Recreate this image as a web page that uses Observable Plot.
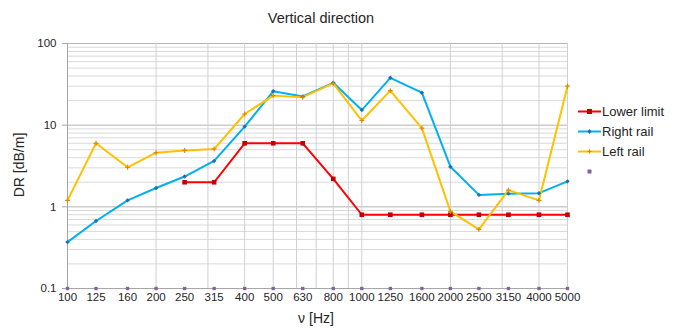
<!DOCTYPE html>
<html><head><meta charset="utf-8">
<script src="https://cdn.jsdelivr.net/npm/d3@7"></script>
<script src="https://cdn.jsdelivr.net/npm/@observablehq/plot@0.6"></script>
<style>
body{margin:0;background:#fff;font-family:"Liberation Sans",Arial,sans-serif;color:#262626;}
#wrap{position:relative;width:676px;height:329px;overflow:hidden;}
.lab{position:absolute;white-space:nowrap;}
#title{top:10px;left:221px;width:200px;text-align:center;font-size:14.5px;}
#ylab{left:19px;top:165px;font-size:14px;transform:translate(-50%,-50%) rotate(-90deg);}
#xlab{left:316px;top:310px;font-size:14px;transform:translateX(-50%);}
#legend{position:absolute;left:578px;top:101px;font-size:13px;}
.row{height:20px;display:flex;align-items:center;}
.row svg{margin-right:1px;}
</style></head><body>
<div id="wrap">
<div id="chart"></div>
<div id="title" class="lab">Vertical direction</div>
<div id="ylab" class="lab">DR [dB/m]</div>
<div id="xlab" class="lab">ν [Hz]</div>
<div id="legend"></div>
</div>
<script>
const freqs = [100,125,160,200,250,315,400,500,630,800,1000,1250,1600,2000,2500,3150,4000,5000];
const lowerLimit = [null,null,null,null,2,2,6,6,6,2.2,0.8,0.8,0.8,0.8,0.8,0.8,0.8,0.8];
const rightRail = [0.37,0.67,1.2,1.7,2.35,3.65,9.6,26,22.5,33,15.3,38,25,3.1,1.4,1.45,1.47,2.05];
const leftRail = [1.2,6,3.05,4.6,4.9,5.1,13.7,23,22,32.5,11.4,26.5,9.2,0.88,0.53,1.6,1.2,30];
const baseSeries = freqs.map(() => 0.1);
const seriesNames = ["Lower limit", "Right rail", "Left rail", ""];
const seriesColors = ["#ff0000", "#00b0f0", "#ffc000", "#8064a2"];
const yTicks = [0.1, 1, 10, 100];
const xGrid = [200,300,400,500,600,700,800,900,1000,2000,3000,4000,5000];

const yMinor = [];
for (const dec of [0.1, 1, 10]) for (let k = 2; k <= 9; k++) yMinor.push(+(dec * k).toPrecision(3));

const toRows = vals => freqs.map((f, i) => ({f, v: vals[i]})).filter(d => d.v != null);
const lowRows = toRows(lowerLimit), rightRows = toRows(rightRail), leftRows = toRows(leftRail), baseRows = toRows(baseSeries);

const chart = Plot.plot({
  width: 676, height: 329,
  marginLeft: 67, marginRight: 109, marginTop: 43, marginBottom: 41,
  style: {fontFamily: "Liberation Sans, Arial, sans-serif", fontSize: "11.5px", color: "#262626"},
  x: {type: "log", domain: [100, 5000], axis: null},
  y: {type: "log", domain: [0.1, 100]},
  marks: [
    Plot.ruleY(yMinor, {stroke: "#d9d9d9", strokeWidth: 1}),
    Plot.ruleY([1, 10, 100], {stroke: "#b3b3b3", strokeWidth: 1}),
    Plot.ruleX(xGrid, {stroke: "#d0d0d0", strokeWidth: 1}),
    Plot.ruleX([100], {stroke: "#a6a6a6", strokeWidth: 1}),
    Plot.ruleY([0.1], {stroke: "#a6a6a6", strokeWidth: 1}),
    Plot.text(freqs, {x: d => d, frameAnchor: "bottom", dy: 12, text: d => String(d), fontSize: 11.5, fill: "#262626"}),
    Plot.axisY({ticks: yTicks, tickFormat: d => String(d), tickSize: 5, tickPadding: 6, label: null, stroke: "#a6a6a6", fontSize: 11.5}),
    Plot.line(lowRows, {x: "f", y: "v", stroke: seriesColors[0], strokeWidth: 2}),
    Plot.line(rightRows, {x: "f", y: "v", stroke: seriesColors[1], strokeWidth: 2}),
    Plot.line(leftRows, {x: "f", y: "v", stroke: seriesColors[2], strokeWidth: 2}),
    Plot.dot(lowRows, {x: "f", y: "v", symbol: "square", r: 2.6, fill: "#c00000", stroke: null}),
    Plot.dot(rightRows, {x: "f", y: "v", symbol: "diamond2", r: 2, fill: "#1f6fb0", stroke: null}),
    Plot.dot(leftRows, {x: "f", y: "v", symbol: "plus", r: 1.7, stroke: "#e08a00", strokeWidth: 1.2}),
    Plot.dot(baseRows, {x: "f", y: "v", symbol: "square", r: 1.9, fill: seriesColors[3], stroke: null})
  ]
});
document.getElementById("chart").appendChild(chart);

// legend
const legend = document.getElementById("legend");
const legendSym = [
  '<rect x="9" y="2" width="5" height="5" fill="#c00000"/>',
  '<path d="M11.5 2 L13.5 4.5 L11.5 7 L9.5 4.5Z" fill="#1f6fb0"/>',
  '<path d="M11.5 2.5 V6.5 M9.5 4.5 H13.5" stroke="#e08a00" stroke-width="1.2"/>',
  '<rect x="9.5" y="2.5" width="4" height="4" fill="#8064a2"/>'
];
seriesNames.forEach((name, i) => {
  const row = document.createElement("div");
  row.className = "row";
  const line = i < 3 ? `<line x1="0" x2="23" y1="4.5" y2="4.5" stroke="${seriesColors[i]}" stroke-width="2"/>` : "";
  row.innerHTML = `<svg width="23" height="9">${line}${legendSym[i]}</svg><span>${name}</span>`;
  legend.appendChild(row);
});
</script>
</body></html>
